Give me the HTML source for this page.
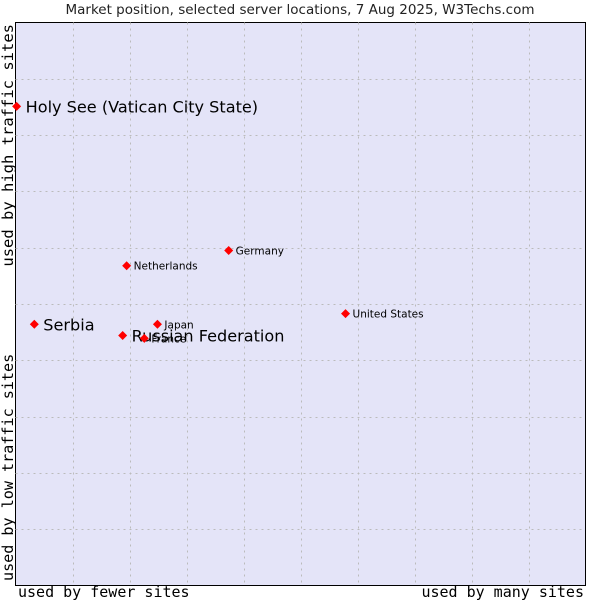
<!DOCTYPE html>
<html><head><meta charset="utf-8"><style>
body{margin:0;background:#fff;width:600px;height:600px;overflow:hidden}
svg text{font-family:"DejaVu Sans","Liberation Sans",sans-serif}
.mono{font-family:"DejaVu Sans Mono","Liberation Mono",monospace}
</style></head><body>
<svg id="chart" width="600" height="600">
<text x="300" y="14" text-anchor="middle" font-size="13.5" fill="#222">Market position, selected server locations, 7 Aug 2025, W3Techs.com</text>
<rect x="15.5" y="22.5" width="570" height="563" fill="#e4e4f8" stroke="#000"/>
<g id="grid"></g>
<g id="points"></g>
<text class="mono" x="18" y="597" font-size="15" fill="#000">used by fewer sites</text>
<text class="mono" x="584" y="597" font-size="15" text-anchor="end" fill="#000">used by many sites</text>
<text class="mono" transform="translate(13,24) rotate(-90)" font-size="15.5" text-anchor="end" fill="#000">used by high traffic sites</text>
<text class="mono" transform="translate(13,581) rotate(-90)" font-size="15.1" fill="#000">used by low traffic sites</text>
</svg>
<script>
const names=["Holy See (Vatican City State)","Serbia","Russian Federation","France","Japan","Netherlands","Germany","United States"];
const xVals=[0.2,3.3,18.8,22.6,24.9,19.5,37.4,57.9];
const yVals=[85.1,46.4,44.4,43.9,46.4,56.8,59.5,48.3];
const bigLabel=[true,true,true,false,false,false,false,false];
const L=15.5,T=22.5,W=570,H=563;
const sx=v=>L+v/100*W, sy=v=>T+H-v/100*H;
const NS="http://www.w3.org/2000/svg";
const g=document.getElementById('grid');
for(let i=1;i<10;i++){
 const l=document.createElementNS(NS,'line');
 
 
 const x=Math.round(sx(i*10))+0.5;
 l.setAttribute('x1',x);l.setAttribute('x2',x);l.setAttribute('y1',T);l.setAttribute('y2',T+H);
 l.setAttribute('stroke','#bbb');l.setAttribute('stroke-dasharray','2,4');g.appendChild(l);
 const h=document.createElementNS(NS,'line');
 
 
 const y=Math.round(sy(i*10))+0.5;
 h.setAttribute('x1',L);h.setAttribute('x2',L+W);h.setAttribute('y1',y);h.setAttribute('y2',y);
 h.setAttribute('stroke','#bbb');h.setAttribute('stroke-dasharray','2,4');g.appendChild(h);
}
const p=document.getElementById('points');
names.forEach((n,i)=>{
 const x=sx(xVals[i]),y=sy(yVals[i]);
 const d=document.createElementNS(NS,'polygon');
 
 
 d.setAttribute('points',`${x},${y-4.5} ${x+4.5},${y} ${x},${y+4.5} ${x-4.5},${y}`);
 d.setAttribute('fill','#f00');p.appendChild(d);
 const t=document.createElementNS(NS,'text');
 
 
 t.setAttribute('x',x+(bigLabel[i]?9:7));t.setAttribute('y',y+(bigLabel[i]?6:4));
 t.setAttribute('font-size',bigLabel[i]?16.1:10.5);t.setAttribute('fill','#000');
 t.textContent=n;p.appendChild(t);
});
</script>
</body></html>
